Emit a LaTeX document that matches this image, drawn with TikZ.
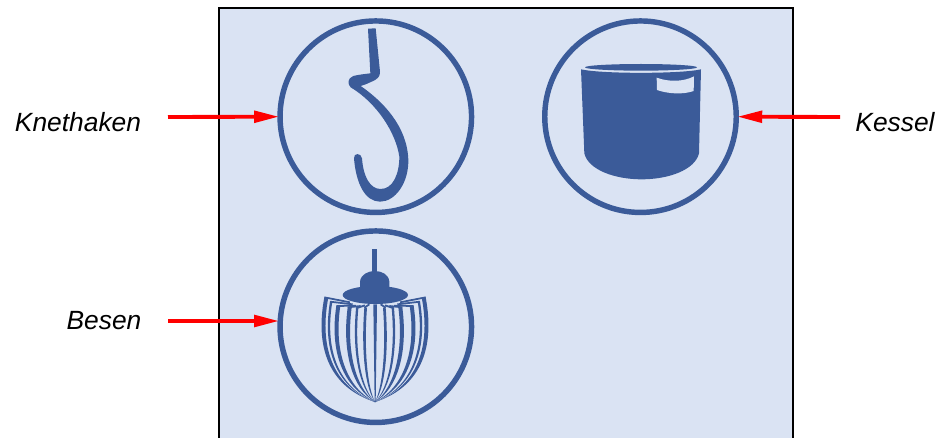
\documentclass[tikz,border=0pt]{standalone}
\usepackage{fontspec}
\setmainfont{Liberation Sans}
\usetikzlibrary{arrows.meta,calc}
\definecolor{mxblue}{RGB}{59,91,153}
\definecolor{mxpanel}{RGB}{218,227,243}
\definecolor{mxred}{RGB}{255,0,0}
\tikzset{
  panel/.style={draw=black, fill=mxpanel, line width=1.6pt, minimum width=114.8mm, minimum height=90.4mm},
  tool/.style={draw=mxblue, circle, line width=3.1pt, minimum size=38.3mm},
  lbl/.style={font=\fontsize{15}{18}\selectfont\itshape, text=black, inner sep=0pt},
  arr/.style={-{Triangle[length=5mm,width=2.3mm]}, draw=mxred, line width=2.2pt, shorten >=-0.35mm},
  icon/.style={fill=mxblue, draw=none},
  wire/.style={draw=mxblue, line join=round, line width=1pt}
}
\begin{document}
\begin{tikzpicture}[x=0.2mm,y=-0.2mm]
  \useasboundingbox (0,0) rectangle (941,438);
  \clip (0,0) rectangle (941,438);
  \node[panel] (panel) at (506,234) {};

  \node[tool] (hook) at (375.8,116.7) {};
  \node[tool] (kessel) at (640.5,116.7) {};
  \node[tool] (besen) at (375.8,326.7) {};

  \node[lbl] (lblhook) at (78,122) {Knethaken};
  \node[lbl] (lblkessel) at (895,122) {Kessel};
  \node[lbl] (lblbesen) at (104,321) {Besen};

  \coordinate (h0) at (168,117);
  \coordinate (k0) at (840,117);
  \coordinate (b0) at (168,321);
  \draw[arr] (h0) -- (hook.west);
  \draw[arr] (k0) -- (kessel.east);
  \draw[arr] (b0) -- (b0 -| besen.west);

  \begin{scope}[shift={(270,10)},scale=1/3]
    \fill[icon] (294,56) -- (317,55) -- (330,185) .. controls (331,200) and (322,208) .. (305,215)
      .. controls (295,220) and (285,224) .. (272,228)
      .. controls (340,275) and (412,350) .. (415,450)
      .. controls (416,520) and (375,575) .. (330,575)
      .. controls (285,575) and (258,520) .. (252,445)
      .. controls (250,428) and (274,428) .. (276,445)
      .. controls (280,500) and (300,537) .. (332,537)
      .. controls (370,537) and (388,490) .. (388,440)
      .. controls (378,370) and (322,280) .. (242,232)
      .. controls (232,222) and (232,205) .. (250,198)
      .. controls (265,194) and (285,192) .. (301,190) -- cycle;
  \end{scope}

  \begin{scope}[shift={(535,10)},scale=1/3]
    \fill[icon] (318,172) ellipse [x radius=168, y radius=10];
    \fill[icon] (138,178) .. controls (200,192) and (436,192) .. (498,178)
      -- (492,430) .. controls (480,480) and (400,508) .. (320,508)
      .. controls (240,508) and (160,480) .. (148,430) -- cycle;
    \fill[mxpanel] (365,203) .. controls (400,216) and (445,216) .. (477,199)
      -- (476,243) .. controls (445,254) and (400,252) .. (366,240) -- cycle;
  \end{scope}

  \begin{scope}[shift={(270,225)},scale=1/3]
    \fill[icon] (306,73) rectangle (321,145);
    \fill[icon] (270,195) -- (270,170) .. controls (272,148) and (295,138) .. (314,138)
      .. controls (335,138) and (356,148) .. (358,170) -- (358,195) -- cycle;
    \fill[icon] (316,210) ellipse [x radius=98, y radius=27];
    \fill[icon] (310,238) -- (321,238) -- (317,530) -- (314,532) -- cycle;
    \foreach \m in {1,-1}{
      \begin{scope}[shift={(315,0)},xscale=\m,shift={(-315,0)}]
        \foreach \cx/\cy/\bx/\hx/\hy/\wd in {163/217/132/240/232/12, 180/230/155/248/238/7, 199/243/178/258/242/12,
            233/247/216/272/243/12, 258/250/246/285/241/7, 283/248/273/298/238/8}{
          \draw[wire] (\hx,\hy) -- (\cx,\cy);
          \fill[icon] (\cx,\cy) .. controls (\bx,380) and ({\bx+(315-\bx)*0.3},490) .. (315,531)
            .. controls ({\bx+\wd+(315-\bx)*0.3},490) and ({\bx+\wd},380) .. ({\cx+\wd},\cy) -- cycle;
        }
      \end{scope}
    }
  \end{scope}
\end{tikzpicture}
\end{document}
